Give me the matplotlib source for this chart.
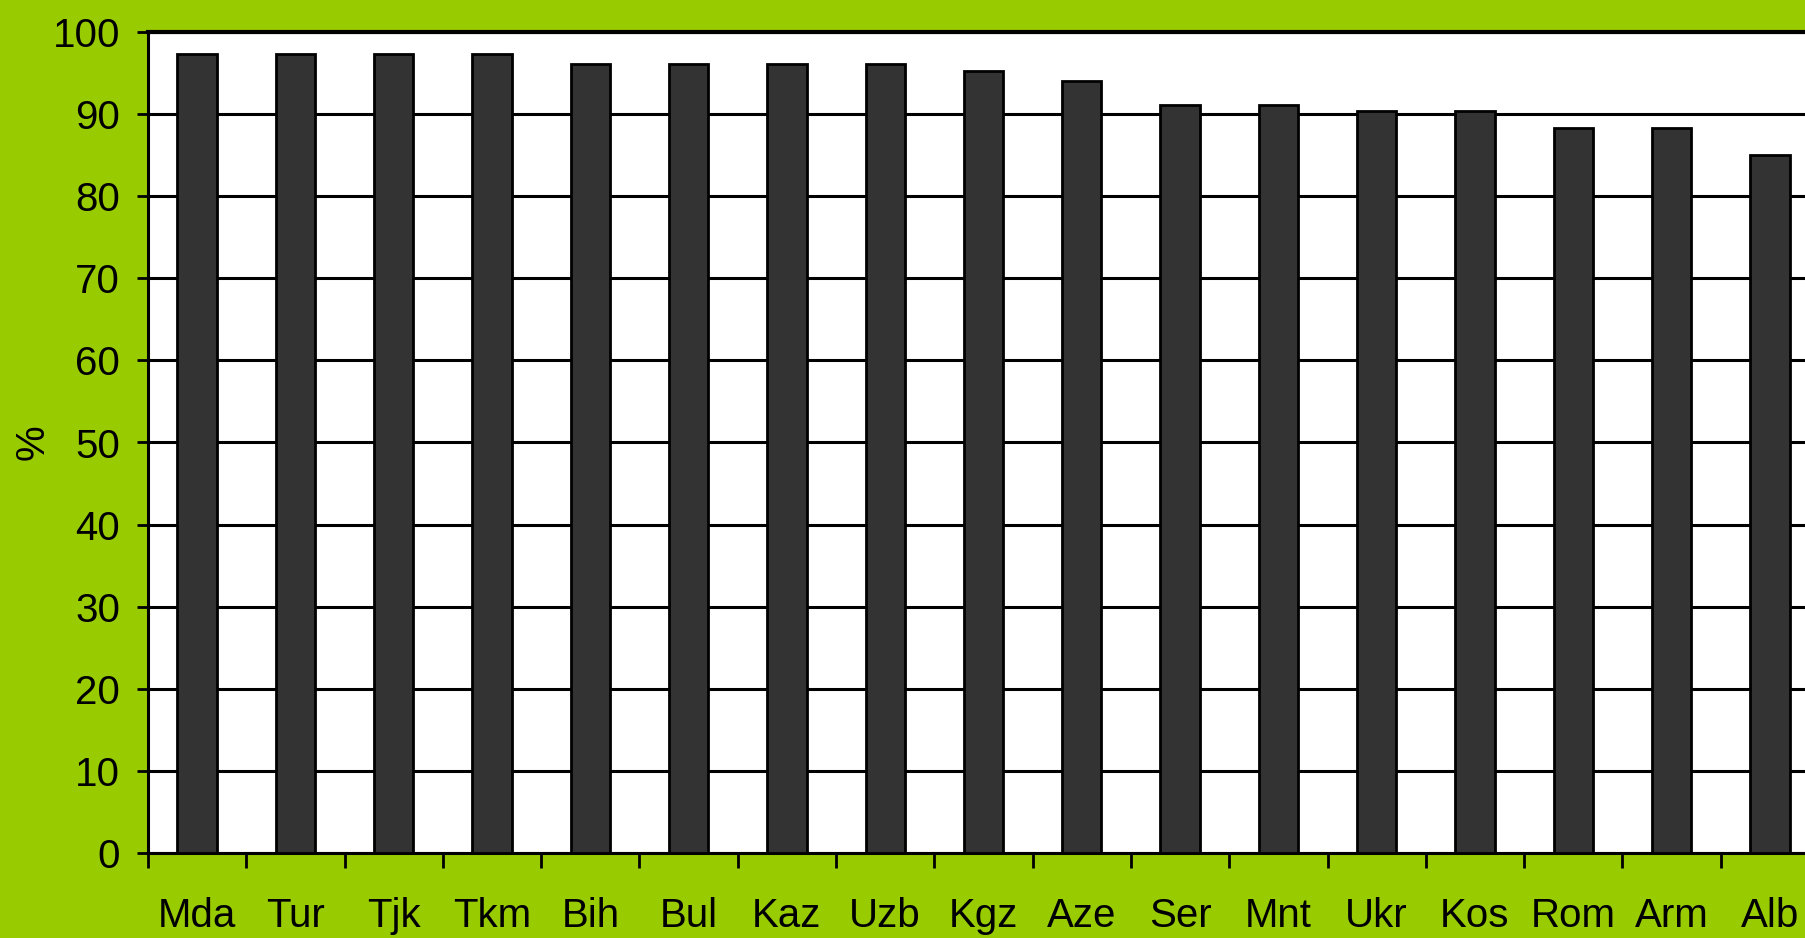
import matplotlib
matplotlib.use('Agg')
import matplotlib.pyplot as plt
import numpy as np

countries = ['Mda', 'Tur', 'Tjk', 'Tkm', 'Bih', 'Bul', 'Kaz', 'Uzb', 'Kgz',
             'Aze', 'Ser', 'Mnt', 'Ukr', 'Kos', 'Rom', 'Arm', 'Alb']
values = [97.3, 97.3, 97.3, 97.3, 96.1, 96.1, 96.1, 96.1, 95.3,
          94.0, 91.1, 91.1, 90.4, 90.4, 88.3, 88.3, 85.0]
y_ticks = [0, 10, 20, 30, 40, 50, 60, 70, 80, 90, 100]

green = '#99cc00'
plt.rcParams['font.family'] = ['Liberation Sans', 'DejaVu Sans']
fs = 29

W, H = 1805, 938
fig = plt.figure(figsize=(W / 100, H / 100), dpi=100, facecolor=green)
# plot area runs a little past the right edge of the picture, like the original
ax = fig.add_axes([148 / W, 1 - 853 / H, (1819 - 148) / W, (853 - 32) / H])
ax.set_facecolor('white')

x = np.arange(len(countries))
ax.bar(x, values, width=0.4, color='#333333', edgecolor='black', linewidth=2, zorder=3)

ax.set_xlim(-0.5, len(countries) - 0.5)
ax.set_ylim(0, 100)
ax.set_yticks(y_ticks)
ax.grid(axis='y', color='black', linewidth=2.2, zorder=1)
ax.set_axisbelow(True)

# ticks between categories, labels in the middle
ax.set_xticks(np.arange(-0.5, len(countries), 1.0))
ax.set_xticklabels([])
ax.set_xticks(x, minor=True)
ax.set_xticklabels(countries, minor=True)
ax.tick_params(axis='x', which='major', direction='out', length=11, width=2, color='black')
ax.tick_params(axis='x', which='minor', length=0, pad=32, labelsize=fs)
ax.tick_params(axis='y', direction='out', length=8, width=2, pad=12, labelsize=fs)

for side in ['top', 'bottom', 'left', 'right']:
    ax.spines[side].set_linewidth(2.2)
    ax.spines[side].set_color('black')
ax.spines['top'].set_linewidth(3)

ax.set_ylabel('%', fontsize=fs)
ax.yaxis.set_label_coords(-0.0574, 0.5)

fig.savefig('out.png', dpi=100, facecolor=green)
